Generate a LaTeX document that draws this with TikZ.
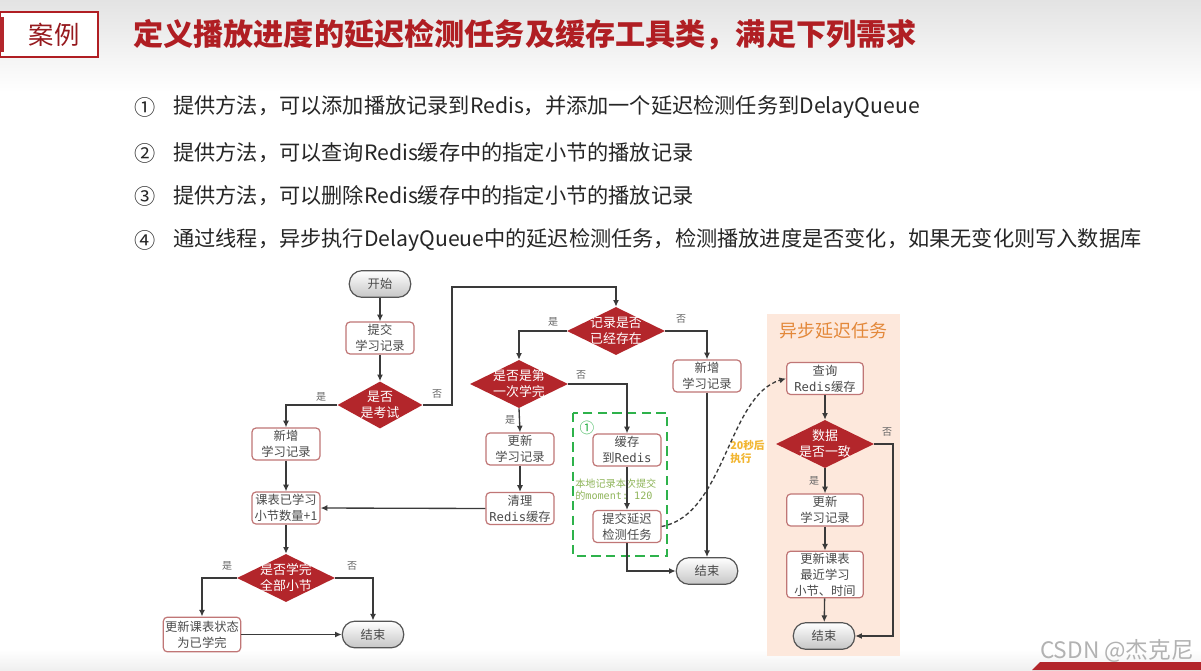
\documentclass[tikz,border=0pt]{standalone}
\usepackage{fontspec}
\setmainfont{Noto Sans CJK SC}
\setmonofont{DejaVu Sans Mono}
\usetikzlibrary{shapes.geometric,arrows.meta,calc}
\definecolor{dred}{HTML}{B3262B}
\definecolor{titleC}{HTML}{B01E23}
\definecolor{lineC}{HTML}{3A3A3A}
\definecolor{boxC}{HTML}{C07676}
\definecolor{txtC}{HTML}{4A4A4A}
\definecolor{labC}{HTML}{666666}
\definecolor{termC}{HTML}{555555}
\definecolor{greenC}{HTML}{2EB24B}
\definecolor{oliveC}{HTML}{8FB55A}
\definecolor{yelC}{HTML}{F2B632}
\definecolor{peachC}{HTML}{FDE8DC}
\definecolor{orangeC}{HTML}{E3883A}
\begin{document}
\begin{tikzpicture}[x=0.75pt,y=-0.75pt,
  line/.style={draw=lineC, line width=1pt},
  arr/.style={line, -{Latex[length=5pt,width=4.5pt]}},
  box/.style={draw=boxC, line width=0.9pt, rounded corners=3pt, fill=white, minimum width=51pt, minimum height=24pt, align=center, text=txtC, font=\fontsize{9.2}{12}\selectfont, inner sep=1pt},
  dia/.style={diamond, fill=dred, minimum width=73.5pt, minimum height=36pt, inner sep=0pt},
  diatext/.style={text=white, align=center, font=\fontsize{9.7}{12}\selectfont, inner sep=0pt},
  term/.style={draw=termC, line width=0.9pt, rounded corners=9.5pt, top color=white, bottom color=gray!45, minimum width=46pt, minimum height=20pt, text=txtC, font=\fontsize{9.2}{12}\selectfont},
  lab/.style={text=labC, font=\fontsize{7.5}{9}\selectfont, inner sep=0pt},
  item/.style={anchor=west, text=black!85, font=\fontsize{15.9}{18}\selectfont, inner sep=0pt}
]
\useasboundingbox (0,0) rectangle (1201,670);
\fill[white] (0,0) rectangle (1201,670);
\fill[top color=gray!22, bottom color=white] (0,0) rectangle (1201,92);
\fill[top color=white, bottom color=gray!12] (0,650) rectangle (1201,670);

% header
\node[draw=titleC, line width=0.8pt, fill=white, minimum width=73.5pt, minimum height=33.75pt, inner sep=0pt] (casebox) at (49,34.5) {};
\fill[dred] (0,17) rectangle (4,52);
\node[text=titleC!85!black, font=\fontsize{19}{22}\selectfont, inner sep=0pt] (casetxt) at (54,35) {案例};
\node[anchor=west, text=titleC, font=\fontsize{22.6}{26}\selectfont\bfseries, inner sep=0pt] (title) at (133,35) {定义播放进度的延迟检测任务及缓存工具类，满足下列需求};

% list
\node[item] (n1) at (134,107) {①};
\node[item] (t1) at (173,107) {提供方法，可以添加播放记录到Redis，并添加一个延迟检测任务到DelayQueue};
\node[item] (n2) at (134,153) {②};
\node[item] (t2) at (173,153) {提供方法，可以查询Redis缓存中的指定小节的播放记录};
\node[item] (n3) at (134,196) {③};
\node[item] (t3) at (173,196) {提供方法，可以删除Redis缓存中的指定小节的播放记录};
\node[item] (n4) at (134,240) {④};
\node[item] (t4) at (173,240) {通过线程，异步执行DelayQueue中的延迟检测任务，检测播放进度是否变化，如果无变化则写入数据库};

% async panel
\fill[peachC] (767,314) rectangle (900,656);
\node[text=orangeC, font=\fontsize{13.5}{16}\selectfont, inner sep=0pt] (asynct) at (833,331) {异步延迟任务};

% green dashed group
\draw[greenC, line width=2.2pt, dash pattern=on 7pt off 4pt] (573,413) rectangle (667,556);
\node[text=greenC, font=\fontsize{11}{13}\selectfont, inner sep=0pt] (g1) at (587,428) {①};

% nodes
\node[term] (start) at (380,284) {开始};
\node[box] (submit) at (380,338) {提交\\学习记录};
\node[dia, minimum width=63.75pt, minimum height=35.25pt] (d1) at (380,405) {};
\node[diatext] at (d1) {是否\\是考试};
\node[box] (new1) at (286,444) {新增\\学习记录};
\node[box] (count) at (286,508) {课表已学习\\小节数量+1};
\node[dia] (d5) at (286,578) {};
\node[diatext] at (d5) {是否学完\\全部小节};
\node[box, minimum width=58pt, minimum height=26pt] (upd4) at (202,634.5) {更新课表状态\\为已学完};
\node[term] (end1) at (373,634.5) {结束};

\node[dia] (d2) at (616,331) {};
\node[diatext] at (d2) {记录是否\\已经存在};
\node[dia] (d3) at (519,384) {};
\node[diatext] at (d3) {是否是第\\一次学完};
\node[box] (upd1) at (520,449) {更新\\学习记录};
\node[box] (clean) at (520,508.5) {清理\\{\ttfamily Redis}缓存};
\node[box] (new2) at (707,376) {新增\\学习记录};
\node[box] (cache) at (627,450) {缓存\\到{\ttfamily Redis}};
\node[box] (task) at (627,526.5) {提交延迟\\检测任务};
\node[term] (end2) at (707,571) {结束};

\node[box, minimum width=57.5pt] (query) at (825,378.5) {查询\\{\ttfamily Redis}缓存};
\node[dia] (d4) at (825,444) {};
\node[diatext] at (d4) {数据\\是否一致};
\node[box, minimum width=57.5pt] (upd2) at (825,510) {更新\\学习记录};
\node[box, minimum width=57.5pt, minimum height=35pt] (upd3) at (825,574.5) {更新课表\\最近学习\\小节、时间};
\node[term] (end3) at (824,636) {结束};

% annotations
\node[anchor=west, text=oliveC, font=\fontsize{7.6}{9.6}\selectfont, align=left, inner sep=0pt] (note) at (575,489.5) {本地记录本次提交\\的{\ttfamily moment: 120}};
\node[anchor=west, text=yelC, font=\fontsize{8}{10}\selectfont\bfseries, align=left, inner sep=0pt] (delay) at (730,452) {20秒后\\执行};

% connectors
\draw[arr] (start) -- (submit);
\draw[arr] (submit) -- (d1);
\draw[arr] (d1.west) -| (new1.north);
\draw[arr] (d1.east) -- (452,405) |- (616,287) -- (d2.north);
\draw[arr] (d2.west) -| (d3.north);
\draw[arr] (d2.east) -| (new2.north);
\draw[arr] (d3.east) -| (cache.north);
\draw[arr] (d3.south) -- (upd1.north);
\draw[arr] (upd1) -- (clean);
\draw[arr] (clean.west) -- (count.east);
\draw[arr] (new2.south) -- (end2.north);
\draw[arr] (cache) -- (task);
\draw[arr] (task.south) |- (end2.west);
\draw[arr] (new1) -- (count);
\draw[arr] (count) -- (d5);
\draw[arr] (d5.west) -| (upd4.north);
\draw[arr] (d5.east) -| (end1.north);
\draw[arr] (upd4.east) -- (end1.west);
\draw[arr] (query) -- (d4);
\draw[arr] (d4.south) -- (upd2.north);
\draw[arr] (upd2) -- (upd3);
\draw[arr] (upd3) -- (end3);
\draw[arr] (d4.east) -- (893,444) |- (end3.east);
\draw[line, densely dashed, -{Latex[length=5pt,width=4.5pt]}] (task.east) .. controls (725,515) and (728,395) .. (query.west);

% labels
\node[lab] at (321,397) {是};
\node[lab] at (437,394) {否};
\node[lab] at (553,322) {是};
\node[lab] at (681,319) {否};
\node[lab] at (581,375) {否};
\node[lab] at (510,420) {是};
\node[lab] at (887,432) {否};
\node[lab] at (814,481) {是};
\node[lab] at (227,566) {是};
\node[lab] at (352,566) {否};

% footer
\fill[dred] (1032,670) -- (1040,662) -- (1201,662) -- (1201,670) -- cycle;
\node[text=gray!60, font=\fontsize{17}{19}\selectfont, inner sep=0pt] (wm) at (1117,651) {CSDN @杰克尼};
\end{tikzpicture}
\end{document}
